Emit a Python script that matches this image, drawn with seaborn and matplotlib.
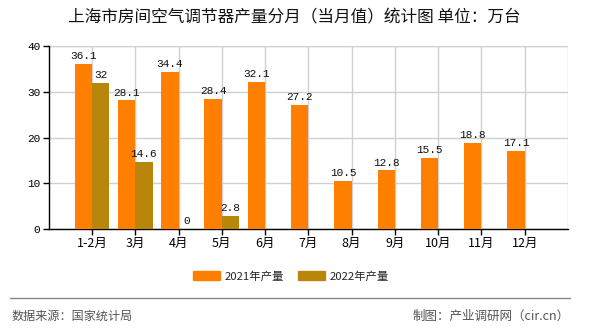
import numpy as np
import pandas as pd
import matplotlib
matplotlib.use("Agg")
import matplotlib.pyplot as plt
import seaborn as sns
from matplotlib.lines import Line2D

categories = ["1-2月", "3月", "4月", "5月", "6月", "7月", "8月", "9月", "10月", "11月", "12月"]
values_2021 = [36.1, 28.1, 34.4, 28.4, 32.1, 27.2, 10.5, 12.8, 15.5, 18.8, 17.1]
values_2022 = [32, 14.6, 0, 2.8, np.nan, np.nan, np.nan, np.nan, np.nan, np.nan, np.nan]
series_names = ["2021年产量", "2022年产量"]
colors = ["#FF8000", "#B8860B"]
yticks = [0, 10, 20, 30, 40]

sns.set_theme(style="white")
plt.rcParams["font.family"] = ["Noto Sans CJK SC", "DejaVu Sans"]

df = pd.DataFrame({
    "month": categories * 2,
    "value": values_2021 + values_2022,
    "series": [series_names[0]] * len(categories) + [series_names[1]] * len(categories),
})

fig = plt.figure(figsize=(5.9, 3.3), dpi=100)
ax = fig.add_axes([48.7 / 590, 1 - 229 / 330, (568 - 48.7) / 590, (229 - 46) / 330])

sns.barplot(data=df, x="month", y="value", hue="series", order=categories,
            hue_order=series_names, palette=colors, saturation=1, width=0.8,
            linewidth=0, ax=ax, legend=False, zorder=3)

mono = ["Liberation Mono", "DejaVu Sans Mono"]
for cont in ax.containers:
    labels = [("%g" % v) if np.isfinite(v) else "" for v in cont.datavalues]
    ax.bar_label(cont, labels=labels, padding=2, fontsize=8, family=mono, color="#111111")

ax.set_xlim(-1, 11)
ax.set_ylim(0, 40)
ax.set_yticks(yticks)
ax.set_yticklabels([str(t) for t in yticks], family=mono, fontsize=8)
ax.set_xticks(range(len(categories)))
ax.set_xticklabels(categories, fontsize=9)
ax.set_xlabel("")
ax.set_ylabel("")

ax.grid(True, axis="both", color="#d0d0d0", linewidth=1, zorder=0)
ax.set_axisbelow(True)
ax.axvline(11, color="#d0d0d0", linewidth=1, zorder=0)
ax.axhline(40, color="#d0d0d0", linewidth=1, zorder=0)

for s in ["top", "right"]:
    ax.spines[s].set_visible(False)
ax.spines["left"].set_color("black")
ax.spines["bottom"].set_color("black")
ax.spines["left"].set_linewidth(1)
ax.spines["bottom"].set_linewidth(1)
ax.tick_params(axis="both", direction="out", length=4, width=1, color="black", pad=2,
               bottom=True, left=True, labelcolor="black")

fig.text(294 / 590, 1 - 18 / 330, "上海市房间空气调节器产量分月（当月值）统计图 单位：万台",
         ha="center", va="center", fontsize=12, color="#111111")

handles = [plt.Rectangle((0, 0), 1, 1, color=c) for c in colors]
fig.legend(handles, series_names, loc="center", bbox_to_anchor=(291 / 590, 1 - 276 / 330),
           ncol=2, frameon=False, fontsize=8.2, handlelength=2.4, handleheight=0.8,
           columnspacing=1.2, handletextpad=0.4)

fig.add_artist(Line2D([10 / 590, 570 / 590], [1 - 298 / 330, 1 - 298 / 330],
                      color="#888888", linewidth=1, transform=fig.transFigure))
fig.text(12 / 590, 1 - 316 / 330, "数据来源：国家统计局", ha="left", va="center",
         fontsize=8.7, color="#555555")
fig.text(570 / 590, 1 - 316 / 330, "制图：产业调研网（cir.cn）", ha="right", va="center",
         fontsize=9, color="#555555")

fig.savefig("out.png", dpi=100)
